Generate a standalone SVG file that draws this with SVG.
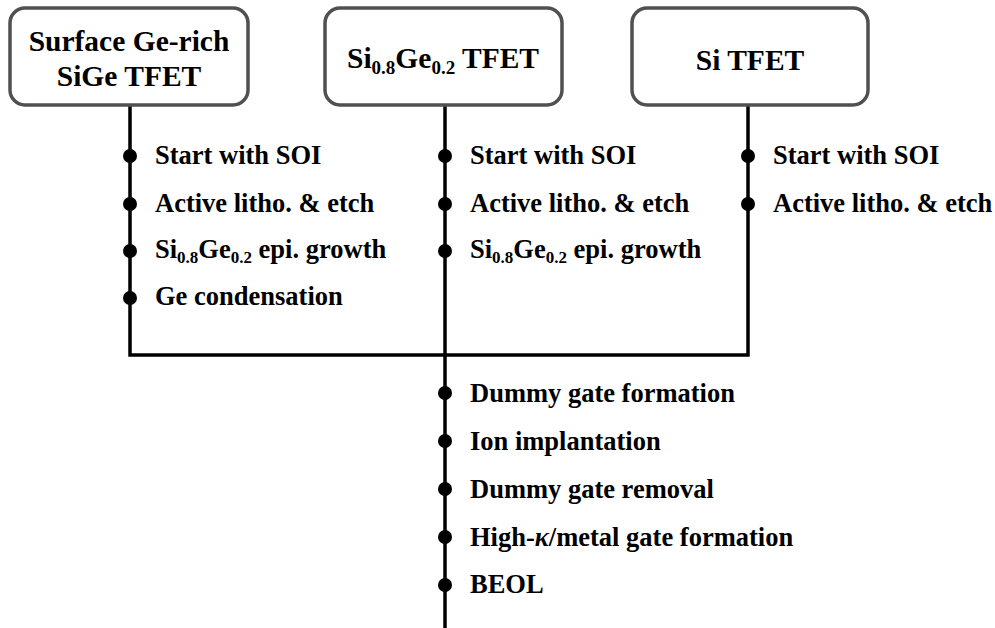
<svg xmlns="http://www.w3.org/2000/svg" width="995" height="628" viewBox="0 0 995 628">
<style>
.box{fill:#fff;stroke:#505050;stroke-width:3.5}
.ln{stroke:#000;stroke-width:3.5;fill:none}
.dot{fill:#000}
</style>
<rect width="995" height="628" fill="#fff"/>
<g id="connectors">
<path class="ln" d="M130,105 V355 H748 V105"/>
<path class="ln" d="M445,105 V628"/>
<g class="dot">
<circle cx="130" cy="156" r="7"/><circle cx="130" cy="204" r="7"/><circle cx="130" cy="251" r="7"/><circle cx="130" cy="298" r="7"/>
<circle cx="445" cy="156" r="7"/><circle cx="445" cy="204" r="7"/><circle cx="445" cy="251" r="7"/>
<circle cx="748" cy="156" r="7"/><circle cx="748" cy="204" r="7"/>
<circle cx="445" cy="393" r="7"/><circle cx="445" cy="441" r="7"/><circle cx="445" cy="489" r="7"/><circle cx="445" cy="537" r="7"/><circle cx="445" cy="585" r="7"/>
</g>
</g>
<g id="node-surface">
<rect class="box" x="10" y="8" width="238" height="97" rx="15"/>
<text font-family="Liberation Serif" font-weight="bold" font-size="29.5" x="129" y="51" text-anchor="middle">Surface Ge-rich</text>
<text font-family="Liberation Serif" font-weight="bold" font-size="29.5" x="129" y="86" text-anchor="middle">SiGe TFET</text>
</g>
<g id="node-sige">
<rect class="box" x="325" y="8" width="237" height="97" rx="15"/>
<text font-family="Liberation Serif" font-weight="bold" font-size="29.5" x="443" y="68" text-anchor="middle">Si<tspan font-size="19" dy="6">0.8</tspan><tspan dy="-6">Ge</tspan><tspan font-size="19" dy="6">0.2</tspan><tspan dy="-6"> TFET</tspan></text>
</g>
<g id="node-si">
<rect class="box" x="632" y="8" width="236" height="97" rx="15"/>
<text font-family="Liberation Serif" font-weight="bold" font-size="29.5" x="750" y="70" text-anchor="middle">Si TFET</text>
</g>
<g id="steps-left">
<text font-family="Liberation Serif" font-weight="bold" font-size="26.5" x="155" y="164">Start with SOI</text>
<text font-family="Liberation Serif" font-weight="bold" font-size="26.5" x="155" y="212">Active litho. &amp; etch</text>
<text font-family="Liberation Serif" font-weight="bold" font-size="26.5" x="155" y="258">Si<tspan font-size="17" dy="5">0.8</tspan><tspan dy="-5">Ge</tspan><tspan font-size="17" dy="5">0.2</tspan><tspan dy="-5"> epi. growth</tspan></text>
<text font-family="Liberation Serif" font-weight="bold" font-size="26.5" x="155" y="305">Ge condensation</text>
</g>
<g id="steps-middle">
<text font-family="Liberation Serif" font-weight="bold" font-size="26.5" x="470" y="164">Start with SOI</text>
<text font-family="Liberation Serif" font-weight="bold" font-size="26.5" x="470" y="212">Active litho. &amp; etch</text>
<text font-family="Liberation Serif" font-weight="bold" font-size="26.5" x="470" y="258">Si<tspan font-size="17" dy="5">0.8</tspan><tspan dy="-5">Ge</tspan><tspan font-size="17" dy="5">0.2</tspan><tspan dy="-5"> epi. growth</tspan></text>
</g>
<g id="steps-right">
<text font-family="Liberation Serif" font-weight="bold" font-size="26.5" x="773" y="164">Start with SOI</text>
<text font-family="Liberation Serif" font-weight="bold" font-size="26.5" x="773" y="212">Active litho. &amp; etch</text>
</g>
<g id="steps-common">
<text font-family="Liberation Serif" font-weight="bold" font-size="26.5" x="470" y="402">Dummy gate formation</text>
<text font-family="Liberation Serif" font-weight="bold" font-size="26.5" x="470" y="450">Ion implantation</text>
<text font-family="Liberation Serif" font-weight="bold" font-size="26.5" x="470" y="498">Dummy gate removal</text>
<text font-family="Liberation Serif" font-weight="bold" font-size="26.5" x="470" y="546">High-<tspan font-style="italic">κ</tspan>/metal gate formation</text>
<text font-family="Liberation Serif" font-weight="bold" font-size="26.5" x="470" y="593">BEOL</text>
</g>
</svg>
